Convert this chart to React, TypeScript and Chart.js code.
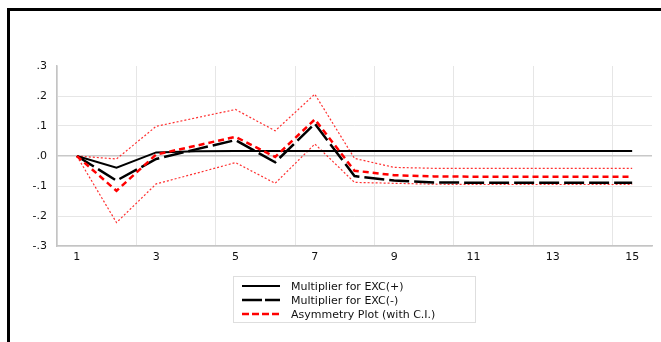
import React, { useEffect, useRef } from "react";
import { Chart, registerables } from "chart.js";

Chart.register(...registerables);

const periods = [1, 2, 3, 4, 5, 6, 7, 8, 9, 10, 11, 12, 13, 14, 15];
const xTickLabels = ["1", "3", "5", "7", "9", "11", "13", "15"];
const yTickValues = [-0.3, -0.2, -0.1, 0, 0.1, 0.2, 0.3];
const yTickLabels = ["-.3", "-.2", "-.1", ".0", ".1", ".2", ".3"];

const excPos = [0, -0.039, 0.012, 0.016, 0.017, 0.017, 0.017, 0.017, 0.017, 0.017, 0.017, 0.017, 0.017, 0.017, 0.017];
const excNeg = [0, -0.082, -0.01, 0.022, 0.053, -0.021, 0.108, -0.067, -0.082, -0.088, -0.089, -0.089, -0.089, -0.089, -0.089];
const asym = [0, -0.116, 0.005, 0.034, 0.064, -0.003, 0.122, -0.049, -0.064, -0.068, -0.069, -0.069, -0.069, -0.069, -0.069];
const ciUpper = [0, -0.01, 0.099, 0.127, 0.155, 0.084, 0.206, -0.008, -0.038, -0.041, -0.041, -0.041, -0.041, -0.041, -0.041];
const ciLower = [0, -0.222, -0.093, -0.058, -0.022, -0.091, 0.04, -0.088, -0.091, -0.094, -0.095, -0.095, -0.095, -0.095, -0.095];

const legendItems = [
  { label: "Multiplier for EXC(+)", color: "#000", dash: "", width: 2 },
  { label: "Multiplier for EXC(-)", color: "#000", dash: "20 3", width: 2.5 },
  { label: "Asymmetry Plot (with C.I.)", color: "#ff0000", dash: "7 3", width: 2.5 },
];

const FONT = "'DejaVu Sans', sans-serif";

export default function App() {
  const canvasRef = useRef<HTMLCanvasElement | null>(null);

  useEffect(() => {
    document.documentElement.style.overflow = "hidden";
    document.body.style.overflow = "hidden";
    const ctx = canvasRef.current!.getContext("2d")!;
    const chart = new Chart(ctx, {
      type: "line",
      data: {
        labels: periods,
        datasets: [
          {
            label: "Asymmetry Plot (with C.I.)",
            data: asym,
            borderColor: "#ff0000",
            borderWidth: 2.5,
            borderDash: [6, 4],
          },
          {
            label: "Multiplier for EXC(-)",
            data: excNeg,
            borderColor: "#000000",
            borderWidth: 2.5,
            borderDash: [20, 5],
          },
          {
            label: "Multiplier for EXC(+)",
            data: excPos,
            borderColor: "#000000",
            borderWidth: 2,
          },
          {
            label: "Upper",
            data: ciUpper,
            borderColor: "#ff3030",
            borderWidth: 1.2,
            borderDash: [2, 2],
          },
          {
            label: "Lower",
            data: ciLower,
            borderColor: "#ff3030",
            borderWidth: 1.2,
            borderDash: [2, 2],
          },
        ],
      },
      options: {
        animation: false,
        responsive: true,
        maintainAspectRatio: false,
        layout: { padding: { top: 55, right: 9, left: 0, bottom: 0 } },
        elements: {
          point: { radius: 0 },
          line: { tension: 0, borderJoinStyle: "miter", fill: false },
        },
        plugins: {
          legend: { display: false },
          tooltip: { enabled: false },
          title: { display: false },
        },
        scales: {
          x: {
            type: "linear",
            min: 0.5,
            max: 15.5,
            afterBuildTicks: (scale: any) => {
              scale.ticks = xTickLabels.map((l) => ({ value: Number(l) - 0.5 }));
            },
            afterFit: (scale: any) => {
              scale.height = 96;
            },
            ticks: {
              callback: (v: any) => String(Number(v) + 0.5),
              labelOffset: 19.8,
              padding: 5,
              color: "#111",
              font: { family: FONT, size: 11 },
              maxRotation: 0,
              autoSkip: false,
            },
            grid: {
              color: "#e6e6e6",
              lineWidth: 1,
              drawTicks: false,
            },
            border: { color: "#c4c4c4", width: 1.5 },
          },
          y: {
            min: -0.3,
            max: 0.3,
            afterBuildTicks: (scale: any) => {
              scale.ticks = yTickValues.map((v) => ({ value: v }));
            },
            afterFit: (scale: any) => {
              scale.width = 46;
            },
            ticks: {
              callback: (v: any) => {
                const i = yTickValues.findIndex((t) => Math.abs(t - Number(v)) < 1e-9);
                return i >= 0 ? yTickLabels[i] : "";
              },
              padding: 10,
              color: "#111",
              font: { family: FONT, size: 11 },
            },
            grid: {
              drawTicks: false,
              color: (c: any) => {
                const v = c.tick ? c.tick.value : 0;
                if (Math.abs(v - 0.3) < 1e-9) return "rgba(0,0,0,0)";
                if (Math.abs(v) < 1e-9) return "#c8c8c8";
                return "#e6e6e6";
              },
              lineWidth: (c: any) => {
                const v = c.tick ? c.tick.value : 0;
                return Math.abs(v) < 1e-9 ? 1.5 : 1;
              },
            },
            border: { color: "#c4c4c4", width: 1.5 },
          },
        },
      },
    });
    return () => chart.destroy();
  }, []);

  return (
    <div
      style={{
        position: "fixed",
        left: 7,
        top: 8,
        width: 700,
        height: 400,
        borderTop: "3px solid #000",
        borderLeft: "3px solid #000",
        boxSizing: "border-box",
        overflow: "hidden",
      }}
    >
      <div style={{ position: "absolute", left: 1, top: 0, width: 650, height: 331 }}>
        <canvas ref={canvasRef} />
      </div>
      <div
        style={{
          position: "absolute",
          left: 223,
          top: 265,
          width: 243,
          height: 47,
          boxSizing: "border-box",
          border: "1px solid #dedede",
          paddingTop: 2,
          fontFamily: FONT,
          fontSize: 11,
          color: "#111",
        }}
      >
        {legendItems.map((it) => (
          <div
            key={it.label}
            style={{ display: "flex", alignItems: "center", height: 14, whiteSpace: "nowrap" }}
          >
            <svg width={38} height={14} style={{ marginLeft: 8, marginRight: 11, flex: "none" }}>
              <line
                x1={0}
                y1={7}
                x2={38}
                y2={7}
                stroke={it.color}
                strokeWidth={it.width}
                strokeDasharray={it.dash || undefined}
              />
            </svg>
            <span>{it.label}</span>
          </div>
        ))}
      </div>
    </div>
  );
}
